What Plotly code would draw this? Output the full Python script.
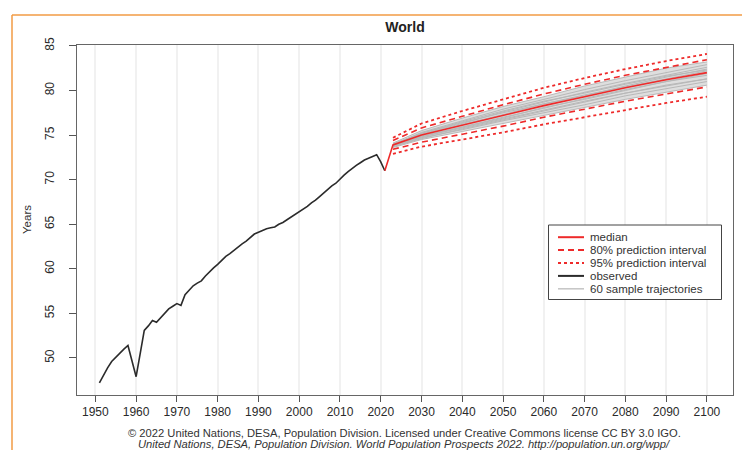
import plotly.graph_objects as go

# ---------------- data ----------------
obs_years = list(range(1951, 2022))
obs_values = [47.2, 48.1, 48.9, 49.6, 50.1, 50.6, 51.0, 51.4, 49.5, 47.9,
              50.5, 53.1, 53.6, 54.2, 54.0, 54.5, 55.0, 55.5, 55.8, 56.1,
              55.9, 57.1, 57.6, 58.1, 58.4, 58.65, 59.2, 59.7, 60.1, 60.5,
              61.0, 61.4, 61.7, 62.1, 62.4, 62.8, 63.1, 63.5, 63.9, 64.1,
              64.3, 64.5, 64.6, 64.7, 65.0, 65.2, 65.5, 65.8, 66.05, 66.4,
              66.7, 67.0, 67.4, 67.7, 68.1, 68.5, 69.0, 69.3, 69.6, 70.1,
              70.5, 70.9, 71.3, 71.6, 71.9, 72.2, 72.4, 72.6, 72.8, 72.0,
              71.0]

median_years = [2021, 2022, 2023, 2030, 2040, 2050, 2060, 2070, 2080, 2090, 2100]
median_values = [71.0, 72.5, 73.9, 75.0, 76.1, 77.2, 78.3, 79.3, 80.3, 81.2, 82.0]

pi_years = [2023, 2030, 2040, 2050, 2060, 2070, 2080, 2090, 2100]
upper80 = [74.4, 75.8, 77.1, 78.4, 79.6, 80.7, 81.7, 82.6, 83.45]
lower80 = [73.4, 74.2, 75.1, 76.0, 77.0, 77.9, 78.8, 79.6, 80.4]
upper95 = [74.7, 76.3, 77.7, 79.0, 80.3, 81.4, 82.4, 83.3, 84.1]
lower95 = [72.9, 73.7, 74.5, 75.3, 76.2, 77.0, 77.8, 78.6, 79.3]

traj_years = [2023, 2030, 2040, 2050, 2060, 2070, 2080, 2090, 2100]
traj_high = [74.1, 75.5, 76.9, 78.2, 79.3, 80.5, 81.5, 82.5, 83.2]
traj_low = [73.6, 74.5, 75.4, 76.3, 77.2, 78.1, 79.0, 79.8, 80.6]
trajectories = [
    [73.9, 75.3, 76.6, 77.9, 79.0, 80.1, 81.1, 82.0, 82.9],
    [73.8, 74.8, 75.8, 76.8, 77.8, 78.8, 79.7, 80.6, 81.3],
    [74.0, 75.2, 76.4, 77.5, 78.5, 79.4, 80.5, 81.5, 82.4],
    [73.7, 74.7, 75.6, 76.6, 77.5, 78.4, 79.4, 80.2, 81.0],
    [74.1, 75.5, 76.9, 78.2, 79.3, 80.5, 81.5, 82.5, 83.2],
    [73.6, 74.5, 75.4, 76.3, 77.2, 78.1, 79.0, 79.8, 80.6],
    [73.9, 75.0, 76.2, 77.3, 78.5, 79.5, 80.4, 81.3, 82.2],
    [73.8, 74.9, 75.9, 77.0, 78.0, 79.1, 80.1, 81.0, 81.7],
    [74.0, 75.1, 76.3, 77.6, 78.7, 79.8, 80.8, 81.7, 82.6],
    [73.7, 74.6, 75.7, 76.7, 77.7, 78.7, 79.7, 80.5, 81.3],
    [73.9, 75.2, 76.5, 77.7, 78.8, 79.7, 80.7, 81.6, 82.3],
    [73.8, 74.8, 75.9, 76.9, 78.1, 79.0, 80.0, 81.0, 81.9],
]

x_ticks = list(range(1950, 2101, 10))
y_ticks = [50, 55, 60, 65, 70, 75, 80, 85]

legend_labels = ["median", "80% prediction interval", "95% prediction interval",
                 "observed", "60 sample trajectories"]

title_text = "World"
y_title = "Years"
caption1 = ("© 2022 United Nations, DESA, Population Division. Licensed under "
            "Creative Commons license CC BY 3.0 IGO.")
caption2 = ("<i>United Nations, DESA, Population Division. World Population "
            "Prospects 2022. http://population.un.org/wpp/</i>")

# ---------------- styling ----------------
FONT = "Liberation Sans, Arial, Helvetica, sans-serif"
RED = "#ee2a2a"
DARK = "#2b2b2b"
GRAY = "#c4c4c4"
ORANGE = "#f29b45"

W, H = 742, 450
L, R, T, B = 77, 9, 45, 55
PW, PH = W - L - R, H - T - B


def px(xp):
    return (xp - L) / PW


def py(yp):
    return (H - B - yp) / PH


fig = go.Figure()

# trajectory cloud
fig.add_trace(go.Scatter(x=traj_years, y=traj_low, mode="lines",
                         line=dict(width=0, color=GRAY), showlegend=False,
                         hoverinfo="skip"))
fig.add_trace(go.Scatter(x=traj_years, y=traj_high, mode="lines", fill="tonexty",
                         fillcolor="rgba(208,208,208,0.7)",
                         line=dict(width=0, color=GRAY), showlegend=False,
                         hoverinfo="skip"))
for tr in trajectories:
    fig.add_trace(go.Scatter(x=traj_years, y=tr, mode="lines",
                             line=dict(width=1, color="#b8b8b8"),
                             showlegend=False, hoverinfo="skip"))

fig.add_trace(go.Scatter(x=obs_years, y=obs_values, mode="lines",
                         line=dict(width=1.6, color=DARK), showlegend=False))
fig.add_trace(go.Scatter(x=pi_years, y=upper95, mode="lines",
                         line=dict(width=1.8, color=RED, dash="dot"), showlegend=False))
fig.add_trace(go.Scatter(x=pi_years, y=lower95, mode="lines",
                         line=dict(width=1.8, color=RED, dash="dot"), showlegend=False))
fig.add_trace(go.Scatter(x=pi_years, y=upper80, mode="lines",
                         line=dict(width=1.6, color=RED, dash="6px,4px"), showlegend=False))
fig.add_trace(go.Scatter(x=pi_years, y=lower80, mode="lines",
                         line=dict(width=1.6, color=RED, dash="6px,4px"), showlegend=False))
fig.add_trace(go.Scatter(x=median_years, y=median_values, mode="lines",
                         line=dict(width=1.6, color=RED), showlegend=False))

shapes = []
annotations = []

# manual legend (R style box)
lx0, lx1, ly0, ly1 = 548.5, 721.5, 225, 299.5
shapes.append(dict(type="rect", xref="paper", yref="paper",
                   x0=px(lx0), x1=px(lx1), y0=py(ly1), y1=py(ly0),
                   line=dict(color="#444", width=1), fillcolor="white", layer="above"))
leg_styles = [dict(color=RED, width=2, dash="solid"),
              dict(color=RED, width=2, dash="6px,4px"),
              dict(color=RED, width=2, dash="dot"),
              dict(color=DARK, width=2, dash="solid"),
              dict(color=GRAY, width=1.5, dash="solid")]
leg_y = [237.2, 250.1, 263.0, 275.9, 288.8]
for lab, st, yy in zip(legend_labels, leg_styles, leg_y):
    shapes.append(dict(type="line", xref="paper", yref="paper",
                       x0=px(558), x1=px(584), y0=py(yy), y1=py(yy),
                       line=st, layer="above"))
    annotations.append(dict(xref="paper", yref="paper", x=px(589), y=py(yy),
                            xanchor="left", yanchor="middle", text=lab,
                            showarrow=False, borderpad=0,
                            font=dict(family=FONT, size=11.5, color="#333")))

# orange page frame
shapes.append(dict(type="line", xref="paper", yref="paper",
                   x0=px(12), x1=px(745), y0=py(15), y1=py(15),
                   line=dict(color=ORANGE, width=1.5)))
shapes.append(dict(type="line", xref="paper", yref="paper",
                   x0=px(12), x1=px(12), y0=py(15), y1=py(452),
                   line=dict(color=ORANGE, width=1.5)))

annotations.append(dict(xref="paper", yref="paper", x=px(27), y=py(220),
                        text=y_title, textangle=-90, showarrow=False,
                        xanchor="center", yanchor="middle",
                        font=dict(family=FONT, size=11.5, color="#333")))
annotations.append(dict(xref="paper", yref="paper", x=px(404), y=py(433),
                        text=caption1, showarrow=False, borderpad=0,
                        xanchor="center", yanchor="middle",
                        font=dict(family=FONT, size=11.2, color="#333")))
annotations.append(dict(xref="paper", yref="paper", x=px(404), y=py(444),
                        text=caption2, showarrow=False, borderpad=0,
                        xanchor="center", yanchor="middle",
                        font=dict(family=FONT, size=11.2, color="#333")))

fig.update_layout(
    width=W, height=H,
    margin=dict(l=L, r=R, t=T, b=B, pad=0),
    paper_bgcolor="white", plot_bgcolor="white",
    title=dict(text="<b>" + title_text + "</b>", x=405 / W,
               xanchor="center", y=1 - 27 / H, yanchor="middle",
               font=dict(family=FONT, size=14, color="#222")),
    showlegend=False,
    shapes=shapes, annotations=annotations,
    xaxis=dict(range=[1945.5, 2106.4], tickmode="array", tickvals=x_ticks,
               ticks="outside", ticklen=6, tickcolor="#555", showline=True,
               linecolor="#666", linewidth=1, mirror=True,
               showgrid=True, gridcolor="#f1f1f1", gridwidth=2, zeroline=False,
               tickfont=dict(family=FONT, size=12, color="#2a2a2a")),
    yaxis=dict(range=[45.85, 85.1], tickmode="array", tickvals=y_ticks,
               ticks="outside", ticklen=7, tickcolor="#555", showline=True,
               linecolor="#666", linewidth=1, mirror=True, tickangle=-90,
               ticklabelstandoff=10,
               showgrid=False, zeroline=False,
               tickfont=dict(family=FONT, size=12, color="#2a2a2a")),
)

fig.write_html("out.html")
